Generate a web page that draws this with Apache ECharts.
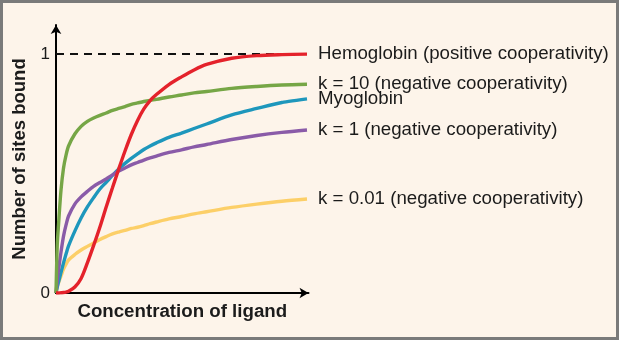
<!DOCTYPE html>
<html>
<head>
<meta charset="utf-8">
<script src="https://cdn.jsdelivr.net/npm/echarts@6/dist/echarts.min.js"></script>
<style>
  html, body { margin: 0; padding: 0; background: #FDF4EA; }
  #chart { position: absolute; left: 0; top: 0; width: 619px; height: 340px; }
  #frame { position: absolute; left: 0; top: 0; width: 619px; height: 340px; box-sizing: border-box; border: 3px solid #7a7a7a; pointer-events: none; }
</style>
</head>
<body>
<div id="chart"></div>
<div id="frame"></div>
<script>
// Ligand concentration (arbitrary units)
const xValues    = [0, 0.05, 0.1, 0.2, 0.3, 0.4, 0.5, 0.75, 1, 1.25, 1.5, 1.75, 2, 2.25, 2.5, 2.75, 3, 3.25, 3.5, 3.75, 4, 4.5, 5, 5.5, 6, 7, 8, 9, 10];
// Fraction of sites bound
const hemoglobin = [0, 0, 0, 0.001, 0.002, 0.004, 0.007, 0.025, 0.061, 0.126, 0.199, 0.276, 0.36, 0.44, 0.519, 0.594, 0.663, 0.722, 0.770, 0.805, 0.83, 0.872, 0.904, 0.933, 0.956, 0.982, 0.993, 0.997, 0.999];
const k10        = [0, 0.201, 0.285, 0.431, 0.523, 0.577, 0.615, 0.665, 0.697, 0.718, 0.732, 0.743, 0.753, 0.764, 0.772, 0.780, 0.789, 0.795, 0.801, 0.806, 0.81, 0.82, 0.828, 0.837, 0.843, 0.856, 0.864, 0.870, 0.873];
const myoglobin  = [0, 0.025, 0.046, 0.086, 0.126, 0.163, 0.197, 0.259, 0.314, 0.360, 0.399, 0.435, 0.463, 0.492, 0.519, 0.542, 0.563, 0.582, 0.600, 0.615, 0.628, 0.651, 0.669, 0.688, 0.707, 0.745, 0.772, 0.797, 0.812];
const k1         = [0, 0.050, 0.096, 0.172, 0.238, 0.285, 0.322, 0.372, 0.402, 0.425, 0.446, 0.462, 0.477, 0.494, 0.51, 0.523, 0.536, 0.546, 0.556, 0.565, 0.573, 0.588, 0.599, 0.611, 0.621, 0.642, 0.659, 0.672, 0.682];
const k001       = [0, 0.025, 0.042, 0.071, 0.100, 0.121, 0.138, 0.161, 0.18, 0.195, 0.209, 0.224, 0.236, 0.247, 0.255, 0.262, 0.270, 0.275, 0.282, 0.290, 0.297, 0.310, 0.320, 0.331, 0.340, 0.358, 0.372, 0.384, 0.393];
const saturation = [1, 1];
const saturationX = [0, 10];

const seriesNames = [
  'k = 0.01 (negative cooperativity)',
  'Myoglobin',
  'k = 1 (negative cooperativity)',
  'k = 10 (negative cooperativity)',
  'Hemoglobin (positive cooperativity)'
];
const seriesData = [k001, myoglobin, k1, k10, hemoglobin];
const seriesColors = ['#FCCF68', '#1E97BC', '#8A5BA8', '#76A646', '#E4222B'];
const yTickLabels = ['0', '1'];
const xAxisTitle = 'Concentration of ligand';
const yAxisTitle = 'Number of sites bound';

const FONT = '"Liberation Sans", Arial, Helvetica, sans-serif';
const TEXT = '#1b1b1b';

function pairs(xs, ys) { return xs.map((x, i) => [x, ys[i]]); }

const series = [{
  type: 'line',
  name: 'saturation',
  data: pairs(saturationX, saturation),
  symbol: 'none',
  silent: true,
  z: 1,
  lineStyle: { color: '#111', width: 2, type: [8, 6] }
}];
seriesData.forEach((d, i) => {
  series.push({
    type: 'line',
    name: seriesNames[i],
    data: pairs(xValues, d),
    symbol: 'none',
    smooth: 0.3,
    z: 2 + i,
    lineStyle: { color: seriesColors[i], width: 3.4 },
    endLabel: {
      show: true,
      formatter: seriesNames[i],
      distance: 11,
      color: TEXT,
      fontFamily: FONT,
      fontSize: 18.7
    }
  });
});

const chart = echarts.init(document.getElementById('chart'), null, { renderer: 'canvas' });
chart.setOption({
  animation: false,
  backgroundColor: 'transparent',
  grid: { left: 56, right: 310.5, top: 25, bottom: 47, containLabel: false },
  xAxis: {
    type: 'value',
    min: 0, max: 10.06,
    name: xAxisTitle,
    nameLocation: 'middle',
    nameGap: 9,
    nameTextStyle: { color: TEXT, fontFamily: FONT, fontSize: 18.7, fontWeight: 'bold' },
    axisLine: { show: true, symbol: ['none', 'arrow'], symbolSize: [8, 9], lineStyle: { color: '#000', width: 2 } },
    axisTick: { show: false },
    axisLabel: { show: false },
    splitLine: { show: false }
  },
  yAxis: {
    type: 'value',
    min: 0, max: 1.121, interval: 1,
    name: yAxisTitle,
    nameLocation: 'middle',
    nameGap: 27,
    nameRotate: 90,
    nameTextStyle: { color: TEXT, fontFamily: FONT, fontSize: 18.5, fontWeight: 'bold' },
    axisLine: { show: true, symbol: ['none', 'arrow'], symbolSize: [8, 9], lineStyle: { color: '#000', width: 2 } },
    axisTick: { show: false },
    axisLabel: {
      show: true, margin: 6, color: TEXT, fontFamily: FONT, fontSize: 17,
      showMaxLabel: false,
      formatter: v => (v === 0 ? yTickLabels[0] : (v === 1 ? yTickLabels[1] : ''))
    },
    splitLine: { show: false }
  },
  series: series
});
</script>
</body>
</html>
